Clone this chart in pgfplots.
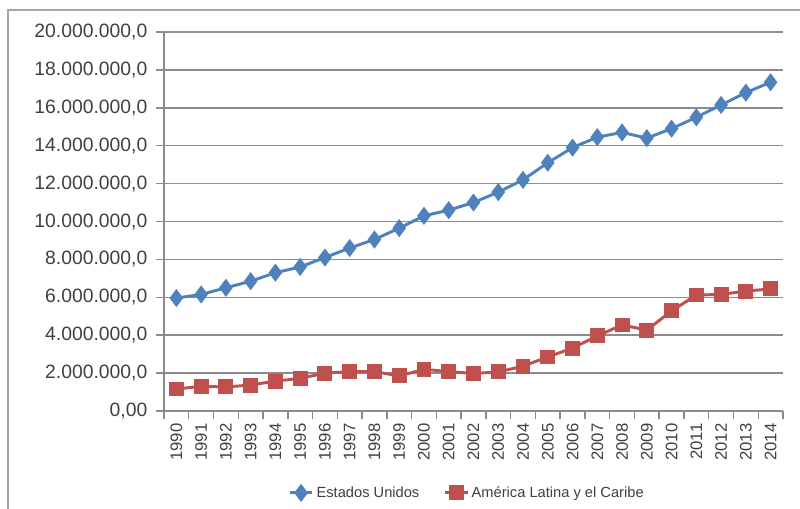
\documentclass[border=0pt]{standalone}
\usepackage{fontspec}
\setmainfont{Liberation Sans}
\usepackage{pgfplots}
\pgfplotsset{compat=1.18}
\definecolor{usblue}{HTML}{4F81BD}
\definecolor{lacred}{HTML}{C0504D}
\definecolor{gridgray}{HTML}{8C8C8C}
\definecolor{framegray}{HTML}{A6A6A6}
\definecolor{txt}{HTML}{404040}

\begin{document}
\begin{tikzpicture}
  \begin{axis}[
      at={(0pt,0pt)}, anchor=south west,
      scale only axis,
      width=464.25pt, height=284.25pt,
      xmin=-0.5, xmax=24.5,
      ymin=0, ymax=20000000,
      axis x line*=bottom, axis y line*=left,
      axis line style={gridgray, line width=1.1pt, -},
      ytick={0,2000000,...,20000000},
      yticklabels={{0,00},{2.000.000,0},{4.000.000,0},{6.000.000,0},{8.000.000,0},{10.000.000,0},{12.000.000,0},{14.000.000,0},{16.000.000,0},{18.000.000,0},{20.000.000,0}},
      scaled y ticks=false,
      xtick={0,...,24},
      xticklabels={1990,1991,1992,1993,1994,1995,1996,1997,1998,1999,2000,2001,2002,2003,2004,2005,2006,2007,2008,2009,2010,2011,2012,2013,2014},
      minor xtick={-0.5,0.5,...,24.5},
      x tick label style={rotate=90, anchor=east, font=\fontsize{12.5pt}{14pt}\selectfont, text=txt},
      y tick label style={font=\fontsize{14.5pt}{16pt}\selectfont, text=txt, xshift=-3pt},
      tick align=outside,
      major tick length=6pt, minor tick length=6pt,
      major x tick style={draw=none},
      tick style={gridgray, line width=1.1pt},
      ymajorgrids,
      major grid style={gridgray, line width=1.1pt},
      legend style={at={(0.49,-0.216)}, anchor=center, draw=none,
        legend columns=-1, font=\fontsize{11pt}{13pt}\selectfont, text=txt,
        /tikz/every even column/.append style={column sep=16pt}},
    ]
    \addplot[usblue, line width=2.2pt, mark=diamond*, mark size=5pt, mark options={solid, scale=1}] coordinates {
      (0,5960000) (1,6150000) (2,6500000) (3,6850000) (4,7300000)
      (5,7600000) (6,8100000) (7,8600000) (8,9050000) (9,9650000)
      (10,10300000) (11,10600000) (12,11000000) (13,11550000) (14,12200000)
      (15,13100000) (16,13900000) (17,14450000) (18,14700000) (19,14400000)
      (20,14900000) (21,15500000) (22,16150000) (23,16800000) (24,17350000)
    };
    \addplot[lacred, line width=2.2pt, mark=square*, mark size=4.5pt, mark options={solid}] coordinates {
      (0,1160000) (1,1300000) (2,1270000) (3,1370000) (4,1580000)
      (5,1720000) (6,2000000) (7,2080000) (8,2080000) (9,1850000)
      (10,2200000) (11,2080000) (12,1980000) (13,2060000) (14,2370000)
      (15,2850000) (16,3320000) (17,3960000) (18,4540000) (19,4270000)
      (20,5280000) (21,6120000) (22,6150000) (23,6330000) (24,6440000)
    };
    \legend{Estados Unidos, América Latina y el Caribe}
  \end{axis}
  \draw[framegray, line width=2.2pt] (-117pt,-90pt) -- (-117pt,300.75pt) -- (490pt,300.75pt);
  \pgfresetboundingbox
  \useasboundingbox (-123pt,-72.75pt) rectangle (477pt,308.25pt);
\end{tikzpicture}
\end{document}
